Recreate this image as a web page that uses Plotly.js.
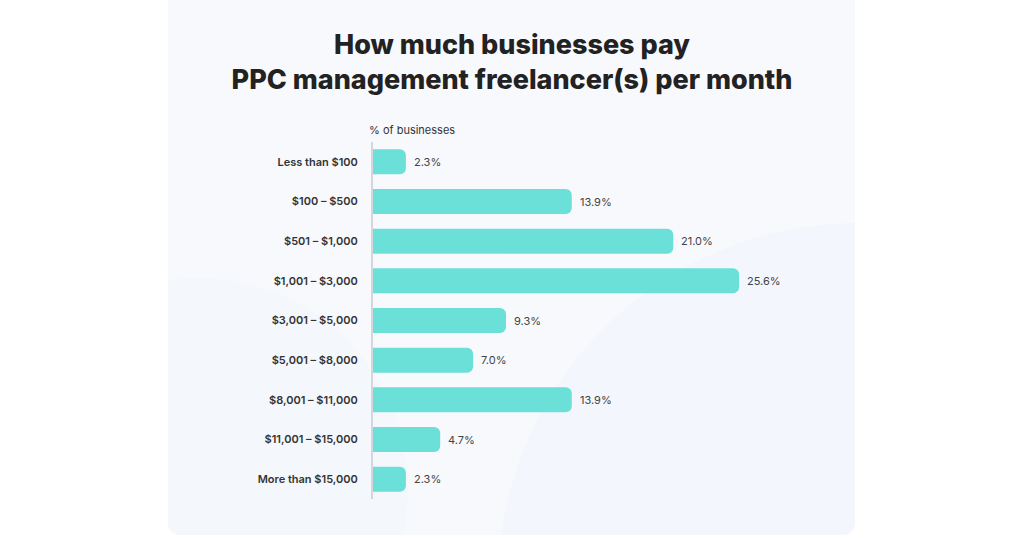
<!DOCTYPE html>
<html>
<head>
<meta charset="utf-8">
<script src="https://cdn.plot.ly/plotly-3.0.1.min.js"></script>
<style>
  html, body { margin:0; padding:0; background:#ffffff; }
  #wrap { position:relative; width:1024px; height:538px; overflow:hidden; }
  #card { position:absolute; left:168px; top:-12px; width:687px; height:547px; border-radius:12px;
          background:#f8f9fd; overflow:hidden; }
  #w1 { position:absolute; left:-180px; top:290px; width:420px; height:420px; border-radius:50%; background:#f4f7fc; }
  #w2 { position:absolute; left:330px; top:235px; width:720px; height:720px; border-radius:50%; background:#f3f6fd; }
  #chart { position:absolute; left:0; top:0; width:1024px; height:538px; }
</style>
</head>
<body>
<div id="wrap">
  <div id="card"><div id="w1"></div><div id="w2"></div></div>
  <div id="chart"></div>
</div>
<script>
const categories = ["Less than $100", "$100 – $500", "$501 – $1,000", "$1,001 – $3,000", "$3,001 – $5,000",
                    "$5,001 – $8,000", "$8,001 – $11,000", "$11,001 – $15,000", "More than $15,000"];
const values = [2.3, 13.9, 21.0, 25.6, 9.3, 7.0, 13.9, 4.7, 2.3];
const valueLabels = values.map(v => v.toFixed(1) + "%");
const titleText = "How much businesses pay<br>PPC management freelancer(s) per month";
const axisLabel = "% of businesses";

const trace = {
  type: "bar",
  orientation: "h",
  y: categories,
  x: values,
  marker: { color: "#6ae0d8", cornerradius: 6, line: { width: 0 } },
  hoverinfo: "skip"
};

const annotations = values.map((v, i) => ({
  x: v, y: categories[i], xref: "x", yref: "y",
  text: valueLabels[i], showarrow: false, xanchor: "left", xshift: 6,
  font: { family: "Inter, sans-serif", size: 11, color: "#444444" }
}));
annotations.push({
  x: 0, y: 1, xref: "x", yref: "paper", text: axisLabel, showarrow: false,
  xanchor: "left", yanchor: "bottom", xshift: -6, yshift: 3,
  font: { family: "Inter, sans-serif", size: 11, color: "#333333" }
});

const layout = {
  width: 1024, height: 538,
  paper_bgcolor: "rgba(0,0,0,0)", plot_bgcolor: "rgba(0,0,0,0)",
  margin: { l: 373, r: 222, t: 142, b: 39 },
  title: {
    text: titleText, x: 0.5, xanchor: "center", xref: "container",
    y: 1 - 54 / 538, yanchor: "top", yref: "container",
    font: { family: "Inter, sans-serif", size: 27, weight: 800, color: "#222222" }
  },
  bargap: 0.37,
  showlegend: false,
  xaxis: { range: [0, 30], visible: false, fixedrange: true },
  yaxis: {
    autorange: "reversed", showline: true, linecolor: "#d4d6dc", linewidth: 2,
    showgrid: false, zeroline: false, ticks: "", ticklabelstandoff: 11,
    tickfont: { family: "Inter, sans-serif", size: 11, weight: 600, color: "#333333" }
  },
  annotations: annotations
};

Plotly.newPlot("chart", [trace], layout, { displayModeBar: false, staticPlot: true });
</script>
</body>
</html>
